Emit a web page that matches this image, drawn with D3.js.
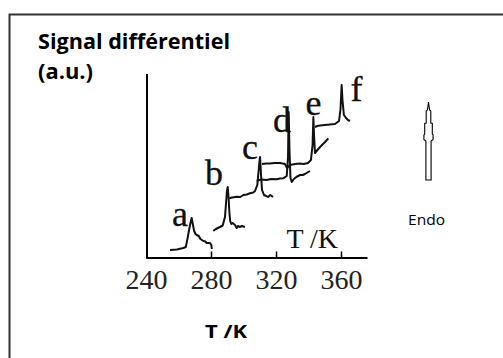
<!DOCTYPE html>
<html><head><meta charset="utf-8">
<script src="https://cdn.jsdelivr.net/npm/d3@7"></script>
<style>html,body{margin:0;padding:0;background:#fff;}svg{display:block;}</style>
</head><body>
<svg id="chart" width="503" height="358"></svg>
<script>
// ---- data (T in K, differential signal in arbitrary units) ----
const seriesNames = ["a","b","c","d","e","f"];
const tA = [254.8,259,263,264.5,265.5,266.5,267.5,268.1,268.8,269.6,270.5,271.2,272.5,273.5,275.3,276.5,277.4,279.4,280.2,280.5];
const sA = [7,7.5,9,10,18,27,35,39,33,26,23,22,21,18,16,15.5,14,14,12,8];
const tB = [281.4,283,285.5,287.2,288.6,289.3,289.8,290.3,290.8,291.3,291.8,292.5,293.3,294.8,295.8,296.5,297.8,299,300.9];
const sB = [26,28,30,31.5,40,55,66,70,60,45,36,33,34,32,29,31,30,31,30];
const tC = [291.3,293,295.8,298,299.9,302,304,306,307.1,308.5,309.3,309.8,310.2,310.8,311.4,312.6,314,315.1,316.5,318.2];
const sC = [58.7,59.5,60.3,60,62,62.5,63.7,64.5,66,72,86,95,100,82,67,62,61,60,62,60];
const tD = [308.1,311,314.3,317,320.4,322.5,324.5,326.6,327.4,327.8,328.3,328.9,329.7,331,332.5,334.8,336.5,337.8,340.9];
const sD = [76.3,77.5,77,78,77.7,78.5,78.7,81,100,145,107,79,75,78,80,82,82,83,86];
const tE = [311.4,314,316.3,319,322.5,325.5,326.8,328.6,331.7,334.8,337,339.7,341.5,342.5,343.0,343.4,344.0,345.0,347.1,350.2,352.2];
const sE = [93,93.5,93.5,94,94,93,89,92,93,93.5,93,94,97,112,140,122,104,106,110,115,118.7];
const tF = [344.0,345.5,347.1,350.2,353.2,356.3,358.8,359.7,360.4,360.9,361.8,363.1,364.3,365.5];
const sF = [130,131,131.5,132,132.5,133,136,148,172,157,142,139,137,136];
const xTicks = [240,280,320,360];
// label anchors (data units) for the series letters
const labelT = [260.9,281.8,304,323.7,343,369.5];
const labelS = [31,72,98.5,125.3,142,156];

const svg = d3.select("#chart");
const x = d3.scaleLinear().domain([240,376]).range([146,367]);
const y = d3.scaleLinear().domain([0,183]).range([257,74]);

// frame
svg.append("rect").attr("x",9.5).attr("y",14.5).attr("width",600).attr("height",400)
  .attr("fill","none").attr("stroke","#333").attr("stroke-width",2);

// titles
svg.append("text").attr("x",38).attr("y",48.5).attr("font-family","Open Sans").attr("font-weight","bold")
  .attr("font-size",20.5).attr("fill","#000").attr("textLength",192).attr("lengthAdjust","spacingAndGlyphs").text("Signal différentiel");
svg.append("text").attr("x",38).attr("y",79).attr("font-family","Open Sans").attr("font-weight","bold")
  .attr("font-size",20.5).attr("fill","#000").attr("textLength",55).attr("lengthAdjust","spacingAndGlyphs").text("(a.u.)");
svg.append("text").attr("x",205).attr("y",338).attr("font-family","Open Sans").attr("font-weight","bold")
  .attr("font-size",18).attr("fill","#000").attr("textLength",42).attr("lengthAdjust","spacingAndGlyphs").text("T /K");

// axes
const xAxis = d3.axisBottom(x).tickValues(xTicks).tickSize(0).tickPadding(0).tickFormat(d3.format("d"));
const gx = svg.append("g").attr("transform","translate(0,257.5)").call(xAxis);
gx.select(".domain").attr("stroke","#000").attr("stroke-width",2);
gx.selectAll(".tick text").attr("font-family","Liberation Serif").attr("font-size",28).attr("fill","#222")
  .attr("dy",null).attr("y",31);
gx.selectAll(".tick").append("line").attr("y1",0).attr("y2",d=>d===240?0:-6).attr("stroke","#000").attr("stroke-width",1.5);
svg.append("line").attr("x1",x(240)+1).attr("x2",x(240)+1).attr("y1",y(183)).attr("y2",258.5)
  .attr("stroke","#000").attr("stroke-width",2);

// in-plot axis label
svg.append("text").attr("x",x(358.2)).attr("y",248).attr("text-anchor","end").attr("font-family","Liberation Serif")
  .attr("font-size",28).attr("fill","#111").text("T /K");

// traces
const traces = [[tA,sA],[tB,sB],[tC,sC],[tD,sD],[tE,sE],[tF,sF]];
const line = d3.line().x(d=>x(d[0])).y(d=>y(d[1]));
traces.forEach(([t,s])=>{
  svg.append("path").datum(t.map((v,i)=>[v,s[i]])).attr("d",line)
    .attr("fill","none").attr("stroke","#111").attr("stroke-width",2).attr("stroke-linejoin","round");
});
svg.selectAll("text.lbl").data(seriesNames).enter().append("text").attr("class","lbl")
  .attr("x",(d,i)=>x(labelT[i])).attr("y",(d,i)=>y(labelS[i])).attr("text-anchor","middle")
  .attr("font-family","Liberation Serif").attr("font-size",36).attr("fill","#111")
  .attr("stroke","#111").attr("stroke-width",0.3).text(d=>d);

// endo arrow
const cx = 428.5;
const hw = [[102,0],[110,1.1],[111,2.3],[123,2.3],[123.5,3.8],[134,3.8],[135,4.6],[139.5,4.6],[141,2.6],[180,2.6]];
const outline = hw.map(p=>[cx+p[1],p[0]]).concat(hw.slice().reverse().map(p=>[cx-p[1],p[0]]));
svg.append("path").attr("d",d3.line()(outline)+"Z").attr("fill","#fff").attr("stroke","#000").attr("stroke-width",1.1);
svg.append("text").attr("x",408).attr("y",225).attr("font-family","Open Sans")
  .attr("font-size",14).attr("fill","#000").attr("textLength",37).attr("lengthAdjust","spacingAndGlyphs").text("Endo");
</script>
</body></html>
